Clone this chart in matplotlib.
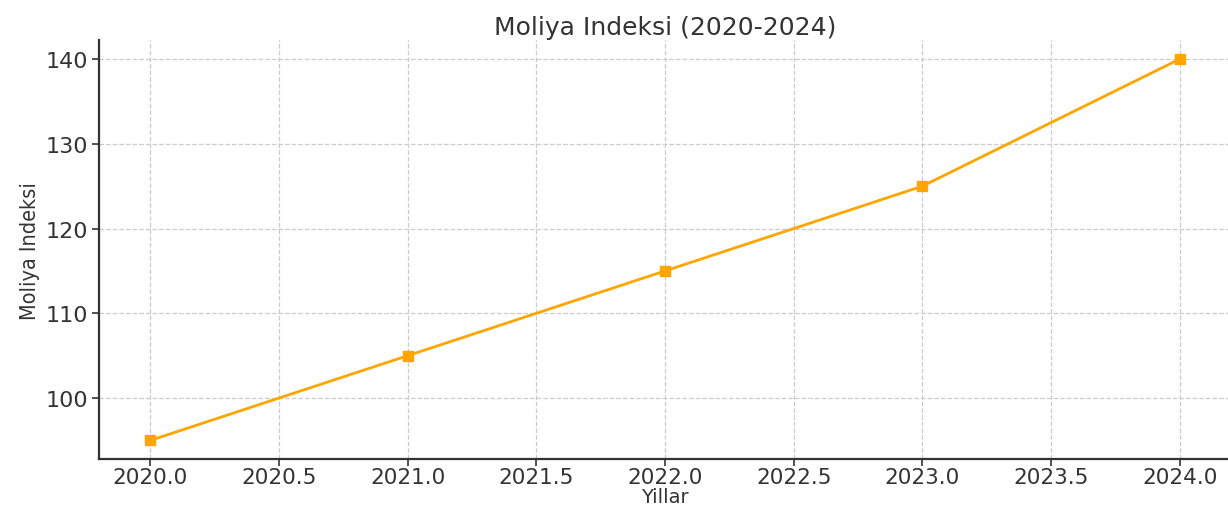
import matplotlib
matplotlib.use("Agg")
import matplotlib.pyplot as plt

years = [2020, 2021, 2022, 2023, 2024]
index_values = [95, 105, 115, 125, 140]

title = "Moliya Indeksi (2020-2024)"
x_label = "Yillar"
y_label = "Moliya Indeksi"

fig = plt.figure(figsize=(12.28, 5.06), dpi=100)
ax = fig.add_axes([0.0806, 0.09, 0.922, 0.829])

ax.plot(years, index_values, color="#FFA500", lw=2, marker="s", markersize=7, zorder=3)

ax.set_title(title, fontsize=18, color="#333333", pad=4)
ax.set_xlabel(x_label, fontsize=14, color="#333333", labelpad=0)
ax.set_ylabel(y_label, fontsize=15.5, color="#333333", stretch="condensed", labelpad=4)

ax.grid(True, linestyle="--", color="#cccccc", lw=0.9)
ax.set_axisbelow(True)
for s in ["top", "right"]:
    ax.spines[s].set_visible(False)
for s in ["left", "bottom"]:
    ax.spines[s].set_color("#333333")
    ax.spines[s].set_linewidth(1.6)
ax.tick_params(labelsize=16, colors="#333333", length=5, width=1.2)
ax.tick_params(axis="x", pad=0.5, labelsize=15.5)
ax.tick_params(axis="y", pad=3)

fig.savefig("out.png", dpi=100)
